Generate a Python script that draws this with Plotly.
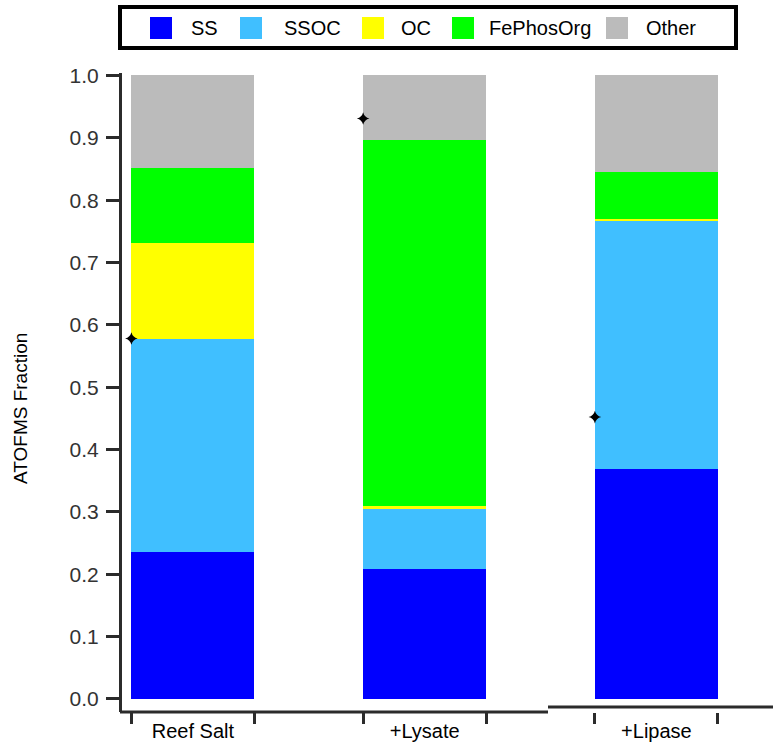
import plotly.graph_objects as go

# ---- data -------------------------------------------------------------
categories = ["Reef Salt", "+Lysate", "+Lipase"]
series_names = ["SS", "SSOC", "OC", "FePhosOrg", "Other"]
series_colors = ["#0000FF", "#40BFFF", "#FFFF00", "#00FF00", "#BBBBBB"]

ss = [0.236, 0.208, 0.369]
ssoc = [0.342, 0.097, 0.397]
oc = [0.154, 0.005, 0.004]
fephosorg = [0.119, 0.587, 0.075]
other = [0.149, 0.103, 0.155]

marker_values = [0.578, 0.931, 0.452]

y_tick_values = [0.0, 0.1, 0.2, 0.3, 0.4, 0.5, 0.6, 0.7, 0.8, 0.9, 1.0]
y_tick_labels = ["0.0", "0.1", "0.2", "0.3", "0.4", "0.5",
                 "0.6", "0.7", "0.8", "0.9", "1.0"]

# ---- geometry / style -------------------------------------------------
W, H = 773, 742
M_L, M_R, M_T, M_B = 122, 0, 73, 30
PLOT_W = W - M_L - M_R
PLOT_H = H - M_T - M_B
BAR_W = 0.531
X_RANGE = [-0.306, 2.503]
Y_RANGE = [-0.021, 1.004]
FONT = "Liberation Sans, Arial, sans-serif"
AXIS_COLOR = "#2b2b2b"

positions = list(range(len(categories)))
edges = []
for p in positions:
    edges += [p - BAR_W / 2, p + BAR_W / 2]


def px_x(px):
    return (px - M_L) / PLOT_W


def px_y(py):
    return (H - M_B - py) / PLOT_H


series_values = [ss, ssoc, oc, fephosorg, other]

fig = go.Figure()
for name, color, vals in zip(series_names, series_colors, series_values):
    fig.add_trace(go.Bar(
        x=positions, y=vals, name=name, width=BAR_W,
        marker=dict(color=color, line=dict(width=0)),
        showlegend=False,
    ))

# black point markers on the left edge of each bar
fig.add_trace(go.Scatter(
    x=[p - BAR_W / 2 for p in positions], y=marker_values,
    mode="markers", xaxis="x2", yaxis="y",
    marker=dict(symbol="star-diamond", size=9, color="black"),
    showlegend=False, hoverinfo="y",
))

# ---- legend drawn as a framed row of swatches --------------------------
shapes = [dict(type="rect", xref="paper", yref="paper",
               x0=px_x(120), x1=px_x(736), y0=px_y(48), y1=px_y(7),
               line=dict(color="black", width=4), fillcolor="white",
               layer="above")]
annotations = []
swatch_x = [150, 240, 362, 452, 606]
label_x = [189, 282, 399, 487, 644]
for name, color, sx, lx in zip(series_names, series_colors, swatch_x, label_x):
    shapes.append(dict(type="rect", xref="paper", yref="paper",
                       x0=px_x(sx), x1=px_x(sx + 22),
                       y0=px_y(39), y1=px_y(17),
                       line=dict(width=0), fillcolor=color, layer="above"))
    annotations.append(dict(xref="paper", yref="paper",
                            x=px_x(lx), y=px_y(28), text=name,
                            xanchor="left", yanchor="middle", showarrow=False,
                            font=dict(family=FONT, size=20, color="black")))

annotations.append(dict(xref="paper", yref="paper",
                        x=px_x(20), y=px_y(409), text="ATOFMS Fraction",
                        textangle=-90, xanchor="center", yanchor="middle",
                        showarrow=False,
                        font=dict(family=FONT, size=19, color="black")))

# bottom frame line: stepped, slightly higher under the last group
shapes.append(dict(type="line", xref="paper", yref="paper",
                   x0=px_x(120), x1=px_x(548), y0=px_y(712), y1=px_y(712),
                   line=dict(color=AXIS_COLOR, width=3)))
shapes.append(dict(type="line", xref="paper", yref="paper",
                   x0=px_x(548), x1=px_x(773), y0=px_y(707), y1=px_y(707),
                   line=dict(color=AXIS_COLOR, width=3)))

fig.update_layout(
    width=W, height=H, autosize=False,
    margin=dict(l=M_L, r=M_R, t=M_T, b=M_B, pad=0),
    paper_bgcolor="white", plot_bgcolor="white",
    barmode="stack", bargap=0,
    showlegend=False,
    shapes=shapes, annotations=annotations,
    font=dict(family=FONT, size=18, color="#222222"),
    xaxis=dict(
        range=X_RANGE, tickvals=positions, ticktext=categories,
        ticks="", showline=False,
        showgrid=False, zeroline=False, ticklabelstandoff=5,
        tickfont=dict(family=FONT, size=20, color="black"),
    ),
    xaxis2=dict(
        range=X_RANGE, overlaying="x", matches="x", tickvals=edges,
        ticks="outside", ticklen=11, tickwidth=3, tickcolor=AXIS_COLOR,
        showticklabels=False, showgrid=False, zeroline=False,
        showline=False, side="bottom",
    ),
    yaxis=dict(
        range=Y_RANGE, tickvals=y_tick_values, ticktext=y_tick_labels,
        ticks="outside", ticklen=13, tickwidth=3, tickcolor=AXIS_COLOR,
        showline=True, linecolor=AXIS_COLOR, linewidth=3,
        showgrid=False, zeroline=False, ticklabelstandoff=3,
        tickfont=dict(family=FONT, size=21, color="#333333"),
    ),
)

fig.write_html("out.html")
